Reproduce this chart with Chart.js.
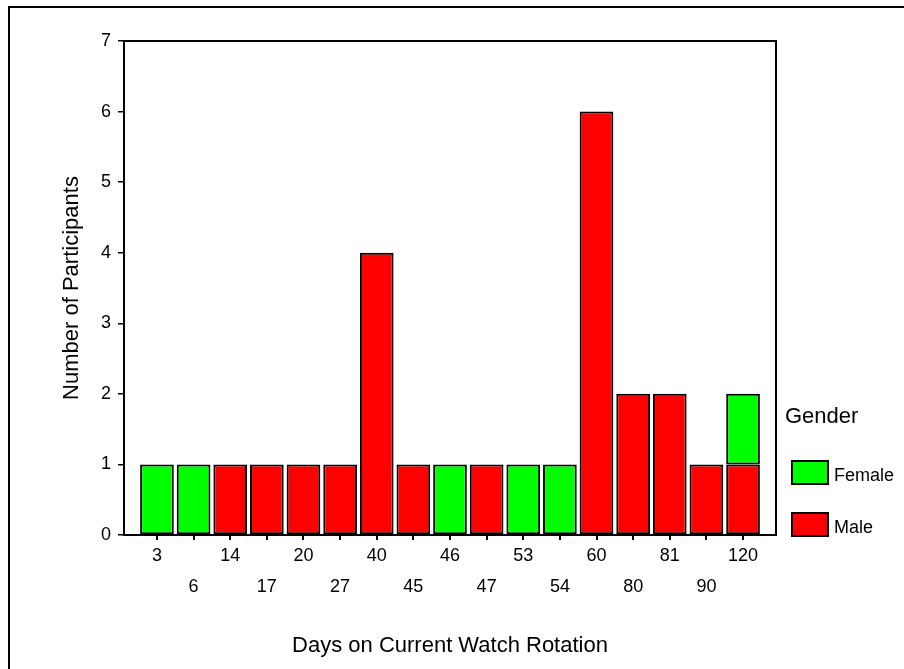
<!DOCTYPE html>
<html>
<head>
<meta charset="utf-8">
<title>Days on Current Watch Rotation</title>
<script src="https://cdn.jsdelivr.net/npm/chart.js@4.4.1/dist/chart.umd.min.js"></script>
<style>
  html, body { margin: 0; padding: 0; background: #fff; }
  #wrap { width: 904px; height: 669px; }
</style>
</head>
<body>
<div id="wrap"><canvas id="bar-chart" width="904" height="669"></canvas></div>
<script>
// days on rotation (x categories) and counts per gender
var days = [3, 6, 14, 17, 20, 27, 40, 45, 46, 47, 53, 54, 60, 80, 81, 90, 120];
var male = [0, 0, 1, 1, 1, 1, 4, 1, 0, 1, 0, 0, 6, 2, 2, 1, 1];
var female = [1, 1, 0, 0, 0, 0, 0, 0, 1, 0, 1, 1, 0, 0, 0, 0, 1];
var yTicks = [0, 1, 2, 3, 4, 5, 6, 7];

var font = "'Liberation Sans', Arial, sans-serif";

// box around the plot + the page frame
var framePlugin = {
    id: 'frame',
    afterDraw: function (chart) {
        var ctx = chart.ctx, a = chart.chartArea;
        ctx.save();
        ctx.strokeStyle = '#000';
        ctx.lineWidth = 2;
        ctx.beginPath();
        ctx.moveTo(a.left, a.top);
        ctx.lineTo(a.right, a.top);
        ctx.lineTo(a.right, a.bottom);
        ctx.stroke();
        // outer frame (top + left only)
        ctx.beginPath();
        ctx.moveTo(904, 7);
        ctx.lineTo(9, 7);
        ctx.lineTo(9, 669);
        ctx.stroke();
        ctx.restore();
    }
};

// SPSS style legend on the right, Female on top
var legendPlugin = {
    id: 'genderLegend',
    afterDraw: function (chart) {
        var ctx = chart.ctx;
        var x = chart.chartArea.right + 16;
        ctx.save();
        ctx.fillStyle = '#000';
        ctx.textAlign = 'left';
        ctx.textBaseline = 'alphabetic';
        ctx.font = '22px ' + font;
        ctx.fillText('Gender', x - 7, 423);
        var sets = chart.data.datasets.slice().reverse();
        ctx.font = '18px ' + font;
        for (var i = 0; i < sets.length; i++) {
            var y = 461 + i * 52;
            ctx.fillStyle = sets[i].backgroundColor;
            ctx.fillRect(x, y, 36, 23);
            ctx.strokeStyle = '#000';
            ctx.lineWidth = 2;
            ctx.strokeRect(x, y, 36, 23);
            ctx.fillStyle = '#000';
            ctx.fillText(sets[i].label, x + 42, y + 20);
        }
        ctx.restore();
    }
};

var chart = new Chart(document.getElementById('bar-chart'), {
    type: 'bar',
    data: {
        labels: days.map(function (d, i) { return i; }),
        datasets: [
            { label: 'Male', data: male, backgroundColor: '#ff0000' },
            { label: 'Female', data: female, backgroundColor: '#00ff00' }
        ]
    },
    options: {
        responsive: false,
        animation: false,
        layout: { padding: { top: 41, right: 128, bottom: 0, left: 0 } },
        datasets: {
            bar: {
                borderColor: '#000',
                borderWidth: 2,
                borderSkipped: false,
                barPercentage: 0.92,
                categoryPercentage: 1
            }
        },
        plugins: {
            legend: { display: false },
            tooltip: { enabled: false }
        },
        scales: {
            x: {
                type: 'linear',
                stacked: true,
                offset: false,
                min: -0.9,
                max: days.length - 1 + 0.9,
                afterBuildTicks: function (s) {
                    s.ticks = days.map(function (d, i) { return { value: i }; });
                },
                afterFit: function (s) { s.height = 134; },
                ticks: {
                    autoSkip: false,
                    maxRotation: 0,
                    padding: 0,
                    color: '#000',
                    font: { family: font, size: 18, lineHeight: 1.73 },
                    // every second label drops to a second row
                    callback: function (v, i) {
                        return i % 2 ? ['', String(days[v])] : String(days[v]);
                    }
                },
                grid: { offset: false, drawOnChartArea: false, tickLength: 5, color: '#000', lineWidth: 2 },
                border: { color: '#000', width: 2 },
                title: {
                    display: true,
                    text: 'Days on Current Watch Rotation',
                    color: '#000',
                    font: { family: font, size: 22 },
                    padding: { top: 0, bottom: 10 }
                }
            },
            y: {
                stacked: true,
                min: 0,
                max: yTicks[yTicks.length - 1],
                afterBuildTicks: function (s) {
                    s.ticks = yTicks.map(function (v) { return { value: v }; });
                },
                afterFit: function (s) { s.width = 124; },
                ticks: {
                    padding: 7,
                    color: '#000',
                    font: { family: font, size: 18 }
                },
                grid: { drawOnChartArea: false, tickLength: 6, color: '#000', lineWidth: 1.5 },
                border: { color: '#000', width: 2 },
                title: {
                    display: true,
                    text: 'Number of Participants',
                    color: '#000',
                    font: { family: font, size: 22 },
                    padding: { top: 59, bottom: 0 }
                }
            }
        }
    },
    plugins: [framePlugin, legendPlugin]
});
</script>
</body>
</html>
